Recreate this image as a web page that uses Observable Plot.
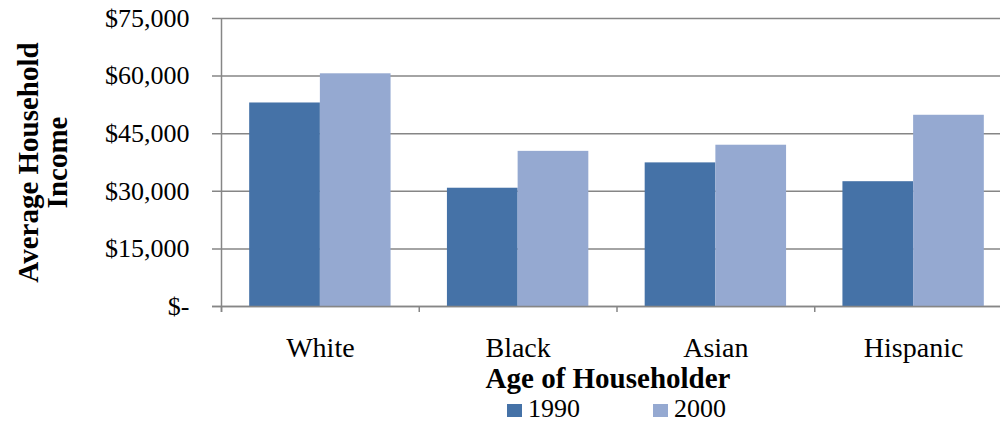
<!DOCTYPE html>
<html>
<head>
<meta charset="utf-8">
<script src="https://cdn.jsdelivr.net/npm/d3@7"></script>
<script src="https://cdn.jsdelivr.net/npm/@observablehq/plot@0.6"></script>
<style>
  html, body { margin: 0; padding: 0; background: #fff; overflow: hidden; }
  #wrap { position: relative; width: 1000px; height: 423px; overflow: hidden; font-family: "Liberation Serif", serif; color: #000; }
  #chart { position: absolute; left: 0; top: 0; }
  #chart svg { max-width: none !important; height: auto; }
  .swatch { position: absolute; width: 15px; height: 13px; top: 404px; }
  .lab { position: absolute; top: 396px; font-size: 26px; line-height: 26px; }
</style>
</head>
<body>
<div id="wrap">
  <div id="chart"></div>
  <div id="legend"></div>
</div>
<script>
// Average household income by group, 1990 vs 2000
const categories = ["White", "Black", "Asian", "Hispanic"];
const income1990 = [53000, 30800, 37400, 32500];
const income2000 = [60600, 40400, 42000, 49800];
const seriesNames = ["1990", "2000"];
const seriesColors = ["#4572A7", "#95A9D1"];
const yTicks = [0, 15000, 30000, 45000, 60000, 75000];
const xTitle = "Age of Householder";
const yTitle = "Average Household\nIncome";

const rows1990 = categories.map((c, i) => ({category: c, value: income1990[i]}));
const rows2000 = categories.map((c, i) => ({category: c, value: income2000[i]}));

// layout
const width = 1012, height = 396;
const marginLeft = 221, marginRight = 0, marginTop = 18, marginBottom = 90;
const paddingInner = 0.285, paddingOuter = paddingInner / 2;
const step = (width - marginLeft - marginRight) / categories.length;
const half = step * (1 - paddingInner) / 2;
const axisColor = "#868686";

const fmt = d => d === 0 ? "$-" : "$" + d3.format(",")(d);

const chart = Plot.plot({
  width, height, marginLeft, marginRight, marginTop, marginBottom,
  style: {fontFamily: "'Liberation Serif', serif", color: "#000", background: "#fff", overflow: "visible", maxWidth: "none"},
  x: {domain: categories, paddingInner, paddingOuter, round: false, axis: null},
  y: {domain: [0, 75000], axis: null},
  marks: [
    // horizontal gridlines, extended left to form the y ticks
    Plot.ruleY(yTicks, {stroke: axisColor, strokeWidth: 1.5, insetLeft: -9}),
    Plot.barY(rows1990, {x: "category", y: "value", fill: seriesColors[0], insetRight: half}),
    Plot.barY(rows2000, {x: "category", y: "value", fill: seriesColors[1], insetLeft: half}),
    // baseline and category boundary ticks
    Plot.ruleY([0], {stroke: axisColor, strokeWidth: 1.5, insetLeft: -9}),
    Plot.ruleX(categories, {x: d => d, y1: 0, y2: 0, dx: -step / 2, insetBottom: -6, stroke: axisColor, strokeWidth: 1.5}),
    Plot.ruleX([categories[0]], {x: d => d, y1: 75000, y2: 0, dx: -step / 2, insetBottom: -6, stroke: axisColor, strokeWidth: 1.5}),
    Plot.axisY(yTicks, {tickSize: 0, tickPadding: 32, tickFormat: fmt, fontSize: 26, label: null}),
    Plot.axisX({tickSize: 0, tickPadding: 30.6, fontSize: 28, label: null}),
    Plot.text([xTitle], {text: d => d, frameAnchor: "bottom", lineAnchor: "middle", textAnchor: "middle", dx: -9, dy: 72.7, fontWeight: "bold", fontSize: 29}),
    Plot.text([yTitle], {text: d => d, frameAnchor: "left", lineAnchor: "middle", textAnchor: "middle", dx: -178.5, rotate: -90, fontWeight: "bold", fontSize: 29, lineHeight: 1.0})
  ]
});
document.getElementById("chart").appendChild(chart);

// legend
const legend = document.getElementById("legend");
const legendX = [507, 653];
seriesNames.forEach((name, i) => {
  const sw = document.createElement("span");
  sw.className = "swatch";
  sw.style.left = legendX[i] + "px";
  sw.style.background = seriesColors[i];
  const lb = document.createElement("span");
  lb.className = "lab";
  lb.style.left = (legendX[i] + 21) + "px";
  lb.textContent = name;
  legend.appendChild(sw);
  legend.appendChild(lb);
});
</script>
</body>
</html>
